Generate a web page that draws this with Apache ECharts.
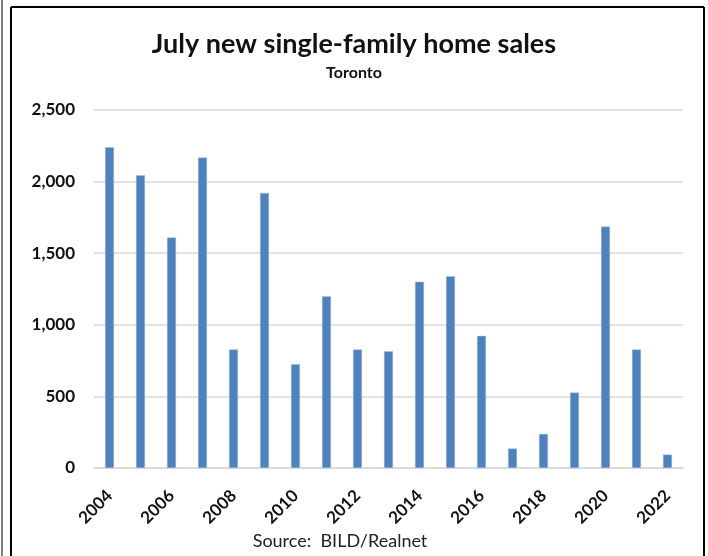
<!DOCTYPE html>
<html>
<head>
<meta charset="utf-8">
<script src="https://cdn.jsdelivr.net/npm/echarts@6/dist/echarts.min.js"></script>
<style>
  html, body { margin: 0; padding: 0; background: #fff; }
  #main { width: 708px; height: 556px; }
</style>
</head>
<body>
<div id="main"></div>
<script>
// years on the x axis
const years = ['2004','2005','2006','2007','2008','2009','2010','2011','2012','2013',
               '2014','2015','2016','2017','2018','2019','2020','2021','2022']
// July new single-family home sales, Toronto
const sales = [2240, 2045, 1610, 2168, 828, 1921, 725, 1199, 828, 816,
               1301, 1339, 923, 136, 238, 527, 1686, 828, 94]
// y axis ticks
const yTicks = [0, 500, 1000, 1500, 2000, 2500]

const chart = echarts.init(document.getElementById('main'), null, { renderer: 'canvas' })

const option = {
  backgroundColor: '#fff',
  animation: false,
  title: {
    text: 'July new single-family home sales',
    subtext: 'Toronto',
    left: 'center',
    top: 26,
    itemGap: 7,
    textStyle: { fontFamily: 'Lato', fontWeight: 'bold', fontSize: 27, color: '#111' },
    subtextStyle: { fontFamily: 'Lato', fontWeight: 'bold', fontSize: 16, color: '#111' }
  },
  grid: { left: 94, right: 25, top: 110, bottom: 88, containLabel: false },
  xAxis: {
    type: 'category',
    data: years,
    axisLine: { show: true, lineStyle: { color: '#d9d9d9', width: 1.5 } },
    axisTick: { show: false },
    axisLabel: {
      interval: 1,
      rotate: 45,
      margin: 25,
      fontFamily: 'Lato',
      fontWeight: 'bold',
      fontSize: 17,
      color: '#111'
    }
  },
  yAxis: {
    type: 'value',
    min: yTicks[0],
    max: yTicks[yTicks.length - 1],
    interval: 500,
    axisLine: { show: false },
    axisTick: { show: false },
    splitLine: { lineStyle: { color: '#d9d9d9', width: 1.5 } },
    axisLabel: {
      margin: 19,
      fontFamily: 'Lato',
      fontWeight: 'bold',
      fontSize: 17,
      color: '#111',
      formatter: v => v.toLocaleString('en-US')
    }
  },
  series: [{
    type: 'bar',
    data: sales,
    barWidth: 9,
    itemStyle: { color: '#4f81bd', borderColor: '#a9c1e0', borderWidth: 0.5 }
  }],
  graphic: [
    // frame round the picture
    { type: 'line', shape: { x1: 2, y1: 0, x2: 2, y2: 556 }, style: { stroke: '#000', lineWidth: 1 } },
    { type: 'line', shape: { x1: 11, y1: 7, x2: 11, y2: 556 }, style: { stroke: '#000', lineWidth: 2 } },
    { type: 'line', shape: { x1: 11, y1: 7, x2: 704, y2: 7 }, style: { stroke: '#000', lineWidth: 2 } },
    { type: 'line', shape: { x1: 704, y1: 7, x2: 704, y2: 556 }, style: { stroke: '#000', lineWidth: 2 } },
    {
      type: 'text',
      x: 340,
      y: 541,
      style: {
        text: 'Source:  BILD/Realnet',
        font: '18px Lato',
        fill: '#222',
        align: 'center',
        verticalAlign: 'middle'
      }
    }
  ]
}

chart.setOption(option)
</script>
</body>
</html>
